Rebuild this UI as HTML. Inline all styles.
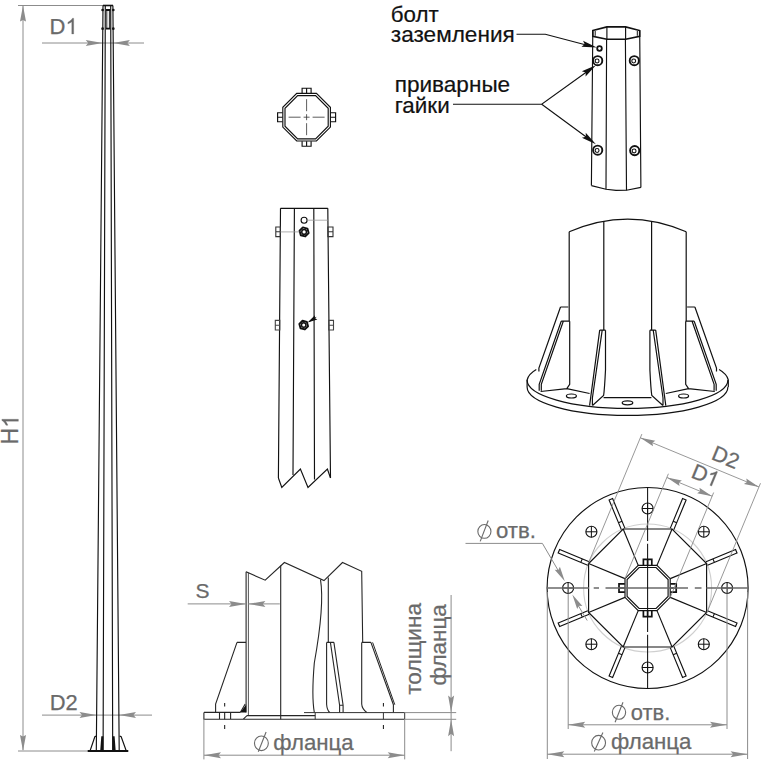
<!DOCTYPE html><html><head><meta charset="utf-8"><style>html,body{margin:0;padding:0;background:#fff;overflow:hidden;}svg{display:block;}text{font-family:"Liberation Sans",sans-serif;}</style></head><body>
<svg width="768" height="776" viewBox="0 0 768 776">
<path d="M18 5.5H103 M23 6V750 M18 751H88 M42 43H144 M42 715.1H152" fill="none" stroke="#8c8c8c" stroke-width="1"/>
<path d="M0 0 L-16 -3 L-14.5 0 L-16 3Z" fill="#8c8c8c" transform="translate(23.00,5.50) rotate(-90.00)"/>
<path d="M0 0 L-16 -3 L-14.5 0 L-16 3Z" fill="#8c8c8c" transform="translate(23.00,751.00) rotate(90.00)"/>
<path d="M0 0 L-17 -3.0 L-14.5 0 L-17 3.0Z" fill="#8c8c8c" transform="translate(102.70,43.00) rotate(0.00)"/>
<path d="M0 0 L-17 -3.0 L-14.5 0 L-17 3.0Z" fill="#8c8c8c" transform="translate(112.90,43.00) rotate(180.00)"/>
<path d="M0 0 L-17 -3.0 L-14.5 0 L-17 3.0Z" fill="#8c8c8c" transform="translate(96.50,715.10) rotate(0.00)"/>
<path d="M0 0 L-17 -3.0 L-14.5 0 L-17 3.0Z" fill="#8c8c8c" transform="translate(119.00,715.10) rotate(180.00)"/>
<g fill="none" stroke="#111" stroke-width="1.15">
<path d="M103 5.5L96.3 751 M112.9 5.5L119.2 751 M105.3 5.5L103.1 751 M110.7 5.5L112.7 751" stroke-width="1.15"/><path d="M103 5.5H113" stroke-width="1.6"/>
<path d="M106.8 10V28.7 M109.4 10V28.7" stroke-width="0.9"/>
<path d="M95 736.3L90 751 M121 736.3L126.3 751 M95 736.3H96.4 M121 736.3H119.6"/>
</g>
<path d="M106 10H110.3 M106 28.7H110.3" stroke="#111" stroke-width="1.8"/>
<g fill="#111"><circle cx="102.6" cy="10" r="1.35"/><circle cx="113.3" cy="10" r="1.35"/><circle cx="102.6" cy="28.7" r="1.35"/><circle cx="113.3" cy="28.7" r="1.35"/>
<path d="M101.3 736.3H103.4L103.3 751H100.2Z M114.6 736.3H112.5L112.6 751H115.7Z"/></g>
<path d="M87.7 751H128.3" stroke="#111" stroke-width="2.1"/>
<text x="49.6" y="34" font-size="22" fill="#6a6a6a" stroke="#6a6a6a" stroke-width="0.25">D</text>
<path d="M763 0H583V1147Q518 1085 413 1023T223 930V1104Q374 1175 487 1276T647 1472H763Z" fill="#6a6a6a" stroke="#6a6a6a" stroke-width="23.3" transform="translate(65.50,34.00) scale(0.010742,-0.010742)"/>
<text x="49.8" y="709.6" font-size="22" fill="#6a6a6a" textLength="28" lengthAdjust="spacingAndGlyphs" stroke="#6a6a6a" stroke-width="0.25">D2</text>
<g transform="translate(18.4,444.4) rotate(-90)"><text x="0" y="0" font-size="23" fill="#6a6a6a" stroke="#6a6a6a" stroke-width="0.25">H</text><path d="M763 0H583V1147Q518 1085 413 1023T223 930V1104Q374 1175 487 1276T647 1472H763Z" fill="#6a6a6a" stroke="#6a6a6a" stroke-width="22.3" transform="translate(16.60,0.00) scale(0.011230,-0.011230)"/></g>
<g fill="none" stroke="#111" stroke-width="1.15">
<path d="M296.74 93.40 L316.46 93.40 L330.40 107.34 L330.40 127.06 L316.46 141.00 L296.74 141.00 L282.80 127.06 L282.80 107.34Z M297.65 95.60 L315.55 95.60 L328.20 108.25 L328.20 126.15 L315.55 138.80 L297.65 138.80 L285.00 126.15 L285.00 108.25Z"/>
<path d="M302.1 93.2V88.2H311.1V93.2 M306.6 93.2V88.2 M302.1 141.2V146.2H311.1V141.2 M306.6 141.2V146.2"/>
<path d="M282.6 112.7H277.6V121.7H282.6 M282.6 117.2H277.6 M330.6 112.7H335.6V121.7H330.6 M330.6 117.2H335.6"/>
</g>
<path d="M306.6 99.2V111.2 M306.6 114.2V120.2 M306.6 123.2V135.2 M288.6 117.2H300.6 M303.6 117.2H309.6 M312.6 117.2H324.6" stroke="#333" stroke-width="0.8" fill="none"/>
<g fill="none" stroke="#111" stroke-width="1.15">
<path d="M280.5 208.3L278.4 478 M294.4 208.3L293 475 M313.8 208.3L314.5 479.5 M327.8 208.3L330.5 478 M280.5 208.3H327.8"/>
<path d="M278.4 478L281.8 487.4L300.4 469L308 487.4L327.4 469L330.5 478"/>
<circle cx="304.1" cy="220.2" r="3"/>
<path d="M275.8 227H280.4V236.6H275.8Z M275.8 231.8H280.4 M327.9 227H333V236.6H327.9Z M327.9 231.8H333" stroke="#333" stroke-width="1.1"/>
<path d="M275.3 320.4H279.8V330H275.3Z M275.3 325.2H279.8 M328.7 320.4H333.5V330H328.7Z M328.7 325.2H333.5" stroke="#444" stroke-width="1.1"/>
</g>
<path d="M308.64 233.12 L305.32 236.44 L300.78 235.22 L299.56 230.68 L302.88 227.36 L307.42 228.58Z" fill="none" stroke="#111" stroke-width="1.9" stroke-linejoin="round"/><circle cx="304.1" cy="231.9" r="2.35" fill="none" stroke="#111" stroke-width="1.5"/>
<path d="M308.05 326.26 L304.86 329.45 L300.52 328.28 L299.35 323.94 L302.54 320.75 L306.88 321.92Z" fill="none" stroke="#111" stroke-width="1.9" stroke-linejoin="round"/><circle cx="303.7" cy="325.1" r="2.25" fill="none" stroke="#111" stroke-width="1.5"/>
<path d="M0 0 L-10 -2.4 L-8.5 0 L-10 2.4Z" fill="#111" transform="translate(307.60,322.60) rotate(148.84)"/>
<path d="M309 321.7L316.2 317.4" stroke="#111" stroke-width="1"/>
<path d="M307.2 220.2H327.8 M280.5 231.9H299.4" stroke="#9a9a9a" stroke-width="0.8" fill="none"/>
<g fill="none" stroke="#111" stroke-width="1.15">
<path d="M592.8 30.5L606.9 26.9H625.6L639.7 30.5V36.4L625.6 39.2H606.9L592.8 36.4Z" stroke-width="1.6"/>
<path d="M595.2 31V35.8 M637.3 31V35.8" stroke-width="1"/>
<path d="M592.8 30.5L591.4 185.6 M606.9 26.9V39.2 M606.6 39.2L606 189.3 M625.6 26.9V39.2 M625.4 39.2L626.5 190.2 M639.7 30.5L640.9 187.4"/>
<path d="M591.4 185.6L606 189.3L616 190.4L626.5 190.2L640.9 187.4"/>
</g>
<circle cx="599.5" cy="48.5" r="2.3" fill="none" stroke="#111" stroke-width="1.8"/>
<circle cx="597.7" cy="60.7" r="4.6" fill="none" stroke="#111" stroke-width="1.9"/><circle cx="597.1" cy="61.0" r="1.93" fill="none" stroke="#111" stroke-width="1.1"/>
<circle cx="634.3" cy="60.7" r="4.6" fill="none" stroke="#111" stroke-width="1.9"/><circle cx="633.6999999999999" cy="61.0" r="1.93" fill="none" stroke="#111" stroke-width="1.1"/>
<circle cx="597.7" cy="150.2" r="4.6" fill="none" stroke="#111" stroke-width="1.9"/><circle cx="597.1" cy="150.5" r="1.93" fill="none" stroke="#111" stroke-width="1.1"/>
<circle cx="634.7" cy="150.6" r="4.6" fill="none" stroke="#111" stroke-width="1.9"/><circle cx="634.1" cy="150.9" r="1.93" fill="none" stroke="#111" stroke-width="1.1"/>
<path d="M516.5 34.2H545.3L590 46 M453 104.2H541.7L590 69.5 M541.7 104.2L590 139.8" stroke="#111" stroke-width="1.1" fill="none"/>
<path d="M0 0 L-15 -3.2 L-12.5 0 L-15 3.2Z" fill="#111" transform="translate(596.80,47.50) rotate(14.48)"/>
<path d="M0 0 L-15 -3.2 L-12.5 0 L-15 3.2Z" fill="#111" transform="translate(595.90,65.20) rotate(-35.74)"/>
<path d="M0 0 L-15 -3.2 L-12.5 0 L-15 3.2Z" fill="#111" transform="translate(595.90,144.20) rotate(36.43)"/>
<text x="390.8" y="21.6" font-size="21.5" fill="#111" textLength="48" lengthAdjust="spacingAndGlyphs" stroke="#111" stroke-width="0.2">болт</text>
<text x="390.8" y="41.8" font-size="21.5" fill="#111" textLength="124" lengthAdjust="spacingAndGlyphs" stroke="#111" stroke-width="0.2">заземления</text>
<text x="394.7" y="91.6" font-size="21.5" fill="#111" textLength="115.5" lengthAdjust="spacingAndGlyphs" stroke="#111" stroke-width="0.2">приварные</text>
<text x="394.7" y="112.5" font-size="21.5" fill="#111" textLength="55" lengthAdjust="spacingAndGlyphs" stroke="#111" stroke-width="0.2">гайки</text>
<g fill="none" stroke="#111" stroke-width="1.2">
<path d="M569.2 231.8Q627.7 206.4 686.2 231.8"/>
<path d="M569.2 231.8V321.2"/>
<path d="M603.8 221.6V330.2"/>
<path d="M560.5 307H568.3 M560.5 307L538.9 368V371.6"/>
<path d="M561.2 321.2H569.7 M561.2 321.2L539.2 384.4V390.7 M563.3 321.2L541.3 384.4V390.7 M569.7 321.2V384.4L566.8 388.6L540.6 391.5 M566.8 388.6L589.6 393.5"/>
<path d="M599.7 330.2H605.5 M599.7 330.2L589.6 405.7 M602.2 330.2L592.4 398V405.5 M605.5 330.2V370Q604.5 390 603.6 395.5L592.5 405.5"/>
<path d="M536.3 369.5Q528.5 374 527.1 380V387"/>
<g transform="translate(1255.4,0) scale(-1,1)"><path d="M569.2 231.8V321.2"/>
<path d="M603.8 221.6V330.2"/>
<path d="M560.5 307H568.3 M560.5 307L538.9 368V371.6"/>
<path d="M561.2 321.2H569.7 M561.2 321.2L539.2 384.4V390.7 M563.3 321.2L541.3 384.4V390.7 M569.7 321.2V384.4L566.8 388.6L540.6 391.5 M566.8 388.6L589.6 393.5"/>
<path d="M599.7 330.2H605.5 M599.7 330.2L589.6 405.7 M602.2 330.2L592.4 398V405.5 M605.5 330.2V370Q604.5 390 603.6 395.5L592.5 405.5"/>
<path d="M536.3 369.5Q528.5 374 527.1 380V387"/></g>
<path d="M603.6 397.6H651.4"/>
<path d="M527.1 380A100.4 28.4 0 0 0 727.9 380 M527.1 387A100.4 28.4 0 0 0 727.9 387"/>
<ellipse cx="571.4" cy="396" rx="5" ry="2"/><ellipse cx="627.5" cy="402.8" rx="5.3" ry="2"/><ellipse cx="683.6" cy="396" rx="5" ry="2"/>
</g>
<g fill="none" stroke="#262626" stroke-width="1.1">
<path d="M246.1 571.8V712.6"/><path d="M248.4 572.8V715.6" stroke-width="1" stroke="#555"/>
<path d="M246.1 571.8L265.2 580.2L284.4 562.5L324 580.6L342.5 562.5L361.7 571.3L362.7 642.4"/>
<path d="M280.7 565.6V719.3 M328.3 577.5V642.4"/>
<path d="M320.5 579.6C323 595 322 620 314.3 663C312 690 313 705 314.3 712.4"/>
<path d="M237 642.4H246 M237 642.4L215.6 704.1V712.2 M245.2 704L240.4 712.2"/>
<path d="M326.6 642.4H333.9 M326.6 642.4V704.2Q327 710 329.7 712.5 M330.4 642.4L339.6 705.2V712.6 M333.9 642.4L343.1 705.2V712.6 M339.6 705.2H343.1"/>
<path d="M361.7 642.4H370.9 M361.7 642.4V704Q362 709 366.8 712.5 M370.9 642.4L393.4 704.7V712.6"/>
<path d="M372.6 642.4L394.8 704.7" stroke-width="1"/>
<path d="M203.9 712.4H240.4 M203.9 712.4V719.3H404.7 M219.5 712.4V719.3 M230.6 712.4V719.3 M246.9 715.6H315.2 M243 719.3L247 715.6"/>
<path d="M304 712.6H404.7V719.3 M315.2 712.6V719.3 M383.4 712.6V719.3" stroke-width="1" stroke="#333"/>
</g>
<path d="M224.7 703V706.5 M224.7 712.4V719.3 M224.7 725V729 M383.4 703V706.5 M383.4 725V729" stroke="#111" stroke-width="1"/>
<path d="M240.2 712.5L246.1 704.8V712.5Z" fill="#111"/>
<path d="M187.7 603.9H246 M248.4 603.9H279.8 M203.9 719.3V759.4 M404.7 719.3V759.4 M204 755.2H404.7 M404.7 712.6H456.2 M404.7 719.3H456.2 M451.1 595V751.2" fill="none" stroke="#8c8c8c" stroke-width="1"/>
<path d="M0 0 L-17 -3.0 L-14.5 0 L-17 3.0Z" fill="#8c8c8c" transform="translate(246.00,603.90) rotate(0.00)"/>
<path d="M0 0 L-17 -3.0 L-14.5 0 L-17 3.0Z" fill="#8c8c8c" transform="translate(248.40,603.90) rotate(180.00)"/>
<path d="M0 0 L-17 -3.0 L-14.5 0 L-17 3.0Z" fill="#8c8c8c" transform="translate(204.00,755.20) rotate(180.00)"/>
<path d="M0 0 L-17 -3.0 L-14.5 0 L-17 3.0Z" fill="#8c8c8c" transform="translate(404.70,755.20) rotate(0.00)"/>
<path d="M0 0 L-17 -3.0 L-14.5 0 L-17 3.0Z" fill="#8c8c8c" transform="translate(451.10,712.60) rotate(90.00)"/>
<path d="M0 0 L-17 -3.0 L-14.5 0 L-17 3.0Z" fill="#8c8c8c" transform="translate(451.10,719.30) rotate(-90.00)"/>
<text x="195.5" y="597.5" font-size="21" fill="#6a6a6a" textLength="14" lengthAdjust="spacingAndGlyphs" stroke="#6a6a6a" stroke-width="0.25">S</text>
<ellipse cx="261.4" cy="743.3" rx="6.93" ry="7.3" fill="none" stroke="#6a6a6a" stroke-width="1.1"/><line x1="258.30" y1="751.80" x2="266.10" y2="732.00" stroke="#6a6a6a" stroke-width="1.1"/>
<text x="273.2" y="749.6" font-size="22" fill="#6a6a6a" textLength="80.5" lengthAdjust="spacingAndGlyphs" stroke="#6a6a6a" stroke-width="0.25">фланца</text>
<text transform="translate(420.80,694.80) rotate(-90)" font-size="21.5" fill="#6a6a6a" textLength="92" lengthAdjust="spacingAndGlyphs" stroke="#6a6a6a" stroke-width="0.25">толщина</text>
<text transform="translate(446.20,685.60) rotate(-90)" font-size="21.5" fill="#6a6a6a" textLength="81.5" lengthAdjust="spacingAndGlyphs" stroke="#6a6a6a" stroke-width="0.25">фланца</text>
<circle cx="647.6" cy="588.0" r="64" fill="none" stroke="#cfcfcf" stroke-width="1.1"/>
<g fill="none" stroke="#111" stroke-width="1.15">
<circle cx="647.6" cy="588.0" r="100.5"/>
<path d="M623.16 529.00 L672.04 529.00 L706.60 563.56 L706.60 612.44 L672.04 647.00 L623.16 647.00 L588.60 612.44 L588.60 563.56Z"/>
<path d="M638.24 565.40 L656.96 565.40 L670.20 578.64 L670.20 597.36 L656.96 610.60 L638.24 610.60 L625.00 597.36 L625.00 578.64Z M639.11 567.50 L656.09 567.50 L668.10 579.51 L668.10 596.49 L656.09 608.50 L639.11 608.50 L627.10 596.49 L627.10 579.51Z"/>
<path d="M656.98 565.36L672.05 528.96"/>
<g transform="translate(647.6,588.0) rotate(22.5)"><path d="M-1.9 -64V-96H1.9V-64 M-1.9 -71.5H1.9"/></g>
<path d="M670.24 578.62L706.64 563.55"/>
<g transform="translate(647.6,588.0) rotate(67.5)"><path d="M-1.9 -64V-96H1.9V-64 M-1.9 -71.5H1.9"/></g>
<path d="M670.24 597.38L706.64 612.45"/>
<g transform="translate(647.6,588.0) rotate(112.5)"><path d="M-1.9 -64V-96H1.9V-64 M-1.9 -71.5H1.9"/></g>
<path d="M656.98 610.64L672.05 647.04"/>
<g transform="translate(647.6,588.0) rotate(157.5)"><path d="M-1.9 -64V-96H1.9V-64 M-1.9 -71.5H1.9"/></g>
<path d="M638.22 610.64L623.15 647.04"/>
<g transform="translate(647.6,588.0) rotate(202.5)"><path d="M-1.9 -64V-96H1.9V-64 M-1.9 -71.5H1.9"/></g>
<path d="M624.96 597.38L588.56 612.45"/>
<g transform="translate(647.6,588.0) rotate(247.5)"><path d="M-1.9 -64V-96H1.9V-64 M-1.9 -71.5H1.9"/></g>
<path d="M624.96 578.62L588.56 563.55"/>
<g transform="translate(647.6,588.0) rotate(292.5)"><path d="M-1.9 -64V-96H1.9V-64 M-1.9 -71.5H1.9"/></g>
<path d="M638.22 565.36L623.15 528.96"/>
<g transform="translate(647.6,588.0) rotate(337.5)"><path d="M-1.9 -64V-96H1.9V-64 M-1.9 -71.5H1.9"/></g>
<circle cx="647.60" cy="508.50" r="5.5"/><path d="M642.10 508.50H653.10 M647.60 503.00V514.00" stroke-width="1"/>
<circle cx="703.81" cy="531.79" r="5.5"/><path d="M698.31 531.79H709.31 M703.81 526.29V537.29" stroke-width="1"/>
<circle cx="727.10" cy="588.00" r="5.5"/><path d="M721.60 588.00H732.60 M727.10 582.50V593.50" stroke-width="1"/>
<circle cx="703.81" cy="644.21" r="5.5"/><path d="M698.31 644.21H709.31 M703.81 638.71V649.71" stroke-width="1"/>
<circle cx="647.60" cy="667.50" r="5.5"/><path d="M642.10 667.50H653.10 M647.60 662.00V673.00" stroke-width="1"/>
<circle cx="591.39" cy="644.21" r="5.5"/><path d="M585.89 644.21H596.89 M591.39 638.71V649.71" stroke-width="1"/>
<circle cx="568.10" cy="588.00" r="5.5"/><path d="M562.60 588.00H573.60 M568.10 582.50V593.50" stroke-width="1"/>
<circle cx="591.39" cy="531.79" r="5.5"/><path d="M585.89 531.79H596.89 M591.39 526.29V537.29" stroke-width="1"/>
</g>
<g fill="none" stroke="#111" stroke-width="1.7">
<g transform="translate(647.6,588.0) rotate(0)"><path d="M-4.2 -22.8V-28.6H4.2V-22.8 M0 -22.8V-28.6" /></g>
<g transform="translate(647.6,588.0) rotate(90)"><path d="M-4.2 -22.8V-28.6H4.2V-22.8 M0 -22.8V-28.6" /></g>
<g transform="translate(647.6,588.0) rotate(180)"><path d="M-4.2 -22.8V-28.6H4.2V-22.8 M0 -22.8V-28.6" /></g>
<g transform="translate(647.6,588.0) rotate(270)"><path d="M-4.2 -22.8V-28.6H4.2V-22.8 M0 -22.8V-28.6" /></g>
</g>
<path d="M546.8 588.0H589 M593.7 588.0H599 M605.5 588.0H688 M694.8 588.0H701.5 M706.4 588.0H748.5" fill="none" stroke="#6a6a6a" stroke-width="1.7"/>
<path d="M647.6 487.3V541 M647.6 543.8V632 M647.6 634.8V688.6" fill="none" stroke="#111" stroke-width="1.05"/>
<g fill="none" stroke="#8c8c8c" stroke-width="0.9">
<path d="M588.29 563.43L641.86 434.09"/>
<path d="M706.91 612.57L760.49 483.22"/>
<path d="M624.96 578.62L668.40 473.76"/>
<path d="M670.24 597.38L713.67 492.52"/>
<path d="M640.33 437.78L758.96 486.92"/>
<path d="M666.87 477.46L712.14 496.21"/>
</g>
<path d="M0 0 L-15 -3.0 L-13 0 L-15 3.0Z" fill="#8c8c8c" transform="translate(640.33,437.78) rotate(202.50)"/>
<path d="M0 0 L-15 -3.0 L-13 0 L-15 3.0Z" fill="#8c8c8c" transform="translate(758.96,486.92) rotate(22.50)"/>
<path d="M0 0 L-15 -3.0 L-13 0 L-15 3.0Z" fill="#8c8c8c" transform="translate(666.87,477.46) rotate(202.50)"/>
<path d="M0 0 L-15 -3.0 L-13 0 L-15 3.0Z" fill="#8c8c8c" transform="translate(712.14,496.21) rotate(22.50)"/>
<text transform="translate(722.95,464.10) rotate(22.5)" font-size="21.5" fill="#6a6a6a" text-anchor="middle" stroke="#6a6a6a" stroke-width="0.25">D2</text>
<g transform="translate(702.63,482.32) rotate(22.5)"><text x="-13.75" y="0" font-size="21.5" fill="#6a6a6a" stroke="#6a6a6a" stroke-width="0.25">D</text><path d="M763 0H583V1147Q518 1085 413 1023T223 930V1104Q374 1175 487 1276T647 1472H763Z" fill="#6a6a6a" stroke="#6a6a6a" stroke-width="23.8" transform="translate(1.77,0.00) scale(0.010498,-0.010498)"/></g>
<path d="M465.5 543.4H542.4L562 577 M576 601.8L587.2 620.5 M568.2 593.5V729 M727 593.5V729 M547.3 592V759 M747.6 592V759 M568.2 724.8H727 M547.3 754.2H747.6" fill="none" stroke="#8c8c8c" stroke-width="1"/>
<path d="M0 0 L-15 -3.0 L-13 0 L-15 3.0Z" fill="#8c8c8c" transform="translate(564.80,581.30) rotate(60.00)"/>
<path d="M0 0 L-15 -3.0 L-13 0 L-15 3.0Z" fill="#8c8c8c" transform="translate(572.30,594.60) rotate(240.00)"/>
<path d="M0 0 L-17 -3.0 L-14.5 0 L-17 3.0Z" fill="#8c8c8c" transform="translate(568.20,724.80) rotate(180.00)"/>
<path d="M0 0 L-17 -3.0 L-14.5 0 L-17 3.0Z" fill="#8c8c8c" transform="translate(727.00,724.80) rotate(0.00)"/>
<path d="M0 0 L-17 -3.0 L-14.5 0 L-17 3.0Z" fill="#8c8c8c" transform="translate(547.30,754.20) rotate(180.00)"/>
<path d="M0 0 L-17 -3.0 L-14.5 0 L-17 3.0Z" fill="#8c8c8c" transform="translate(747.60,754.20) rotate(0.00)"/>
<ellipse cx="484.4" cy="531.4" rx="6.55" ry="6.9" fill="none" stroke="#6a6a6a" stroke-width="1.1"/><line x1="480.20" y1="541.40" x2="488.20" y2="520.50" stroke="#6a6a6a" stroke-width="1.1"/>
<text x="496.0" y="538.3" font-size="21.5" fill="#6a6a6a" textLength="40" lengthAdjust="spacingAndGlyphs" stroke="#6a6a6a" stroke-width="0.25">отв.</text>
<ellipse cx="619" cy="712.3" rx="6.65" ry="7.0" fill="none" stroke="#6a6a6a" stroke-width="1.1"/><line x1="615.10" y1="722.20" x2="623.00" y2="702.20" stroke="#6a6a6a" stroke-width="1.1"/>
<text x="630.8" y="720.0" font-size="21.5" fill="#6a6a6a" textLength="39.5" lengthAdjust="spacingAndGlyphs" stroke="#6a6a6a" stroke-width="0.25">отв.</text>
<ellipse cx="598.6" cy="742.7" rx="6.93" ry="7.3" fill="none" stroke="#6a6a6a" stroke-width="1.1"/><line x1="594.30" y1="751.60" x2="602.90" y2="732.50" stroke="#6a6a6a" stroke-width="1.1"/>
<text x="610.9" y="749.3" font-size="22" fill="#6a6a6a" textLength="80.5" lengthAdjust="spacingAndGlyphs" stroke="#6a6a6a" stroke-width="0.25">фланца</text>
</svg></body></html>
